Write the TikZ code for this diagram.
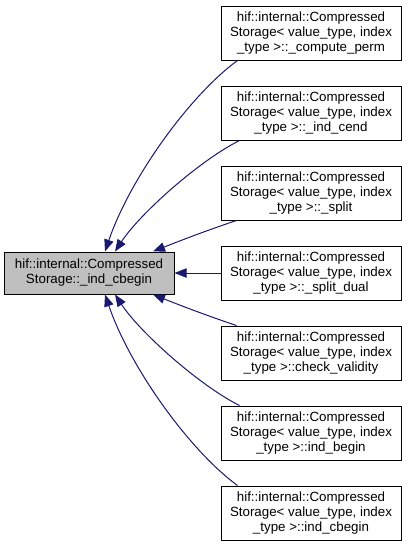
\documentclass[tikz,border=0pt]{standalone}
\usepackage{fontspec}
\setmainfont{Liberation Sans}
\usetikzlibrary{arrows.meta, positioning, calc}
\definecolor{edgeblue}{RGB}{25,25,112}
\definecolor{boxgray}{RGB}{191,191,191}

\begin{document}
\begin{tikzpicture}[x=0.75pt, y=-0.75pt,
    member/.style={draw, line width=0.75pt, minimum width=135pt, minimum height=40.5pt,
        align=center, inner sep=0pt, font=\fontsize{10}{11.3}\selectfont},
    current/.style={member, fill=boxgray, minimum width=127.5pt, minimum height=31.5pt},
    dep/.style={edgeblue, line width=0.75pt, -{Triangle[length=9pt, width=7pt]}}]
    \useasboundingbox (0,0) rectangle (408,547);
    % the documented member
    \node[current] (cbegin) at (89,273) {hif::internal::Compressed\\Storage::\_ind\_cbegin};
    % its callers
    \node[member] (perm) at (311,33) {hif::internal::Compressed\\Storage< value\_type, index\\\_type >::\_compute\_perm};
    \node[member] (cend) at (311,113) {hif::internal::Compressed\\Storage< value\_type, index\\\_type >::\_ind\_cend};
    \node[member] (split) at (311,193) {hif::internal::Compressed\\Storage< value\_type, index\\\_type >::\_split};
    \node[member] (splitdual) at (311,273) {hif::internal::Compressed\\Storage< value\_type, index\\\_type >::\_split\_dual};
    \node[member] (valid) at (311,353) {hif::internal::Compressed\\Storage< value\_type, index\\\_type >::check\_validity};
    \node[member] (begin) at (311,433) {hif::internal::Compressed\\Storage< value\_type, index\\\_type >::ind\_begin};
    \node[member] (icbegin) at (311,513) {hif::internal::Compressed\\Storage< value\_type, index\\\_type >::ind\_cbegin};
    % calls
    \draw[dep] ($(perm.south west)+(17,0)$) .. controls +(-48,35) and +(25,-73) .. ($(cbegin.north)+(16,0)$);
    \draw[dep] ($(cend.south west)+(19,0)$) .. controls +(-40,20) and +(25,-38) .. ($(cbegin.north)+(26,0)$);
    \draw[dep] ($(split.south west)+(16,0)$) .. controls +(-30,10) and +(25,-10) .. ($(cbegin.north)+(64,0)$);
    \draw[dep] (splitdual.west) -- (cbegin.east);
    \draw[dep] ($(valid.north west)+(16,0)$) .. controls +(-30,-10) and +(25,10) .. ($(cbegin.south)+(64,0)$);
    \draw[dep] ($(begin.north west)+(19,0)$) .. controls +(-40,-20) and +(25,38) .. ($(cbegin.south)+(26,0)$);
    \draw[dep] ($(icbegin.north west)+(17,0)$) .. controls +(-48,-35) and +(25,73) .. ($(cbegin.south)+(16,0)$);
\end{tikzpicture}
\end{document}
